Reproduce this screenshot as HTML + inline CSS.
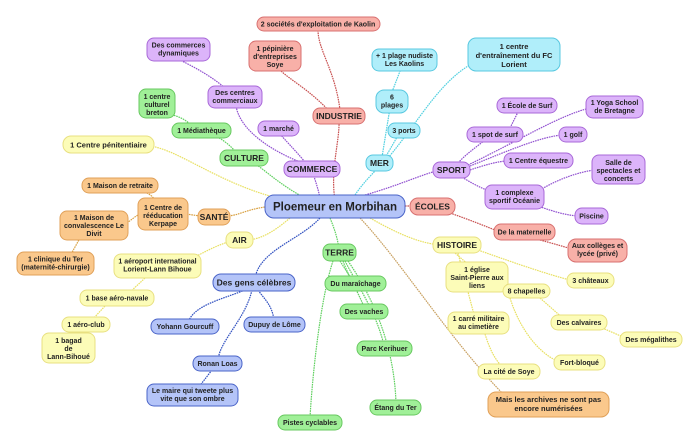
<!DOCTYPE html>
<html><head><meta charset="utf-8"><style>
html,body{margin:0;padding:0;background:#fff;width:700px;height:447px;overflow:hidden}
svg{display:block}
text{font-family:"Liberation Sans",sans-serif;font-weight:bold;font-size:7px;fill:#222;text-anchor:middle}
.e{fill:none;stroke-width:1.2;stroke-dasharray:1.6 0.8}
.r{fill:#f8b0a8;stroke:#d87070}.p{fill:#dcb4fa;stroke:#a868d8}.g{fill:#a0f098;stroke:#68c860}
.y{fill:#fcfcb8;stroke:#e8e080}.o{fill:#fac88c;stroke:#e0a058}.c{fill:#b0eefa;stroke:#58c8e0}.b{fill:#b4c4f8;stroke:#4a64c8}
rect{stroke-width:1}
.m{font-size:8.5px}
</style></head><body>
<svg width="700" height="447" viewBox="0 0 700 447">
<!-- edges -->
<g class="e" stroke="#c85050">
<path d="M335 200 C330 170,340 140,339 120"/><path d="M340 110 C335 70,318 50,318 30"/><path d="M330 112 C310 90,290 80,280 70"/>
<path d="M405 206 L410 206"/><path d="M450 213 C470 220,485 226,500 232"/><path d="M540 240 C555 244,565 247,575 250"/>
</g>
<g class="e" stroke="#9050d0">
<path d="M320 198 C318 188,315 180,312 170"/><path d="M300 162 C270 150,240 130,236 106"/><path d="M225 88 C210 75,190 65,180 60"/><path d="M305 162 C295 150,285 140,280 134"/>
<path d="M365 195 C400 185,420 175,440 170"/><path d="M458 163 C465 155,475 148,485 140"/><path d="M510 128 L518 112"/>
<path d="M468 165 C520 140,560 115,590 108"/><path d="M470 166 C510 150,540 137,562 135"/><path d="M470 170 C485 165,495 162,506 161"/>
<path d="M460 176 C470 182,480 188,492 192"/><path d="M540 190 C560 178,580 172,594 170"/><path d="M535 205 C555 212,565 215,578 216"/>
</g>
<g class="e" stroke="#60d060">
<path d="M305 198 C280 185,265 170,250 160"/><path d="M235 151 C225 140,215 135,205 132"/><path d="M190 124 C180 115,170 115,162 112"/>
<path d="M330 218 C335 230,338 240,339 250"/><path d="M340 261 L352 280"/><path d="M343 261 C350 280,360 295,365 310"/>
<path d="M345 261 C360 290,375 310,384 345"/><path d="M348 261 C375 300,395 350,396 405"/><path d="M333 261 C320 300,312 380,310 418"/>
</g>
<g class="e" stroke="#e8e060">
<path d="M285 200 C220 185,180 150,150 146"/><path d="M290 218 C270 235,260 238,250 240"/><path d="M228 242 C210 248,200 255,192 258"/>
<path d="M145 278 L128 294"/><path d="M105 306 L92 320"/><path d="M75 332 L70 338"/>
<path d="M370 218 C400 235,420 243,440 245"/><path d="M455 253 L470 266"/><path d="M478 250 C520 265,550 275,570 280"/>
<path d="M458 253 C465 280,470 300,475 318"/><path d="M485 334 C490 350,495 360,505 370"/><path d="M500 285 L515 290"/>
<path d="M540 298 L565 320"/><path d="M600 327 L630 340"/><path d="M510 298 C520 330,540 355,560 362"/>
</g>
<g class="e" stroke="#d8a040">
<path d="M265 207 C245 210,240 215,228 216"/><path d="M200 216 L186 214"/><path d="M155 200 C150 192,140 190,130 190"/>
<path d="M140 214 C132 218,130 222,124 224"/><path d="M80 238 L70 256"/>
</g>
<path class="e" stroke="#c8a060" stroke-width="0.8" d="M360 218 C400 260,450 340,505 396"/>
<g class="e" stroke="#50d0e0">
<path d="M355 195 C365 180,375 172,380 165"/><path d="M385 158 L400 132"/><path d="M382 157 L390 108"/><path d="M392 92 L402 66"/>
<path d="M388 158 C420 120,440 80,475 62"/>
</g>
<g class="e" stroke="#3050c0">
<path d="M320 218 C300 240,260 250,255 278"/><path d="M245 290 C220 300,195 305,188 322"/><path d="M258 290 C265 300,272 305,274 320"/>
<path d="M252 290 C245 320,220 340,218 360"/><path d="M212 370 L198 388"/>
</g>
<!-- nodes -->
<rect class="b" x="265" y="195" width="140" height="23" rx="9" stroke-width="1.6"/><text x="335" y="210.5" style="font-size:11.5px">Ploemeur en Morbihan</text>

<rect class="r" x="313" y="108" width="52" height="16" rx="7"/><text class="m" x="339" y="119">INDUSTRIE</text>
<rect class="r" x="257" y="17" width="123" height="14" rx="7"/><text x="318" y="26.5">2 sociétés d'exploitation de Kaolin</text>
<rect class="r" x="249" y="41" width="52" height="30" rx="7"/><text x="275" y="51">1 pépinière<tspan x="275" dy="8">d'entreprises</tspan><tspan x="275" dy="8">Soye</tspan></text>

<rect class="p" x="284" y="161" width="56" height="16" rx="7"/><text class="m" x="312" y="172">COMMERCE</text>
<rect class="p" x="147" y="38" width="63" height="23" rx="7"/><text x="178.5" y="47.5">Des commerces<tspan x="178.5" dy="8">dynamiques</tspan></text>
<rect class="p" x="208" y="86" width="54" height="22" rx="7"/><text x="235" y="95">Des centres<tspan x="235" dy="8">commerciaux</tspan></text>
<rect class="p" x="258" y="121" width="41" height="15" rx="7"/><text x="278.5" y="131">1 marché</text>

<rect class="g" x="220" y="150" width="48" height="16" rx="7"/><text class="m" x="244" y="161">CULTURE</text>
<rect class="g" x="172" y="123" width="59" height="15" rx="7"/><text x="201.5" y="133">1 Médiathèque</text>
<rect class="g" x="139" y="89" width="36" height="29" rx="7"/><text x="157" y="99">1 centre<tspan x="157" dy="8">culturel</tspan><tspan x="157" dy="8">breton</tspan></text>

<rect class="y" x="63" y="136" width="91" height="17" rx="8"/><text x="108.5" y="147.5" style="font-size:7.5px">1 Centre pénitentiaire</text>

<rect class="o" x="82" y="178" width="76" height="15" rx="7"/><text x="120" y="188">1 Maison de retraite</text>
<rect class="o" x="138" y="198" width="50" height="32" rx="7"/><text x="163" y="210">1 Centre de<tspan x="163" dy="8">rééducation</tspan><tspan x="163" dy="8">Kerpape</tspan></text>
<rect class="o" x="198" y="209" width="32" height="16" rx="7"/><text class="m" x="214" y="220">SANTÉ</text>
<rect class="o" x="60" y="211" width="68" height="29" rx="7"/><text x="94" y="220">1 Maison de<tspan x="94" dy="8">convalescence Le</tspan><tspan x="94" dy="8">Divit</tspan></text>
<rect class="o" x="17" y="252" width="77" height="23" rx="7"/><text x="55.5" y="261.5">1 clinique du Ter<tspan x="55.5" dy="8">(maternité-chirurgie)</tspan></text>

<rect class="y" x="226" y="232" width="27" height="16" rx="7"/><text class="m" x="239.5" y="243">AIR</text>
<rect class="y" x="114" y="254" width="87" height="24" rx="7"/><text x="157.5" y="263.5">1 aéroport international<tspan x="157.5" dy="8">Lorient-Lann Bihoue</tspan></text>
<rect class="y" x="80" y="290" width="74" height="16" rx="7"/><text x="117" y="300.5">1 base aéro-navale</text>
<rect class="y" x="62" y="317" width="48" height="15" rx="7"/><text x="86" y="327">1 aéro-club</text>
<rect class="y" x="42" y="333" width="53" height="30" rx="7"/><text x="68.5" y="343">1 bagad<tspan x="68.5" dy="8">de</tspan><tspan x="68.5" dy="8">Lann-Bihoué</tspan></text>

<rect class="b" x="213" y="274" width="82" height="17" rx="8"/><text class="m" x="254" y="285.5">Des gens célèbres</text>
<rect class="b" x="151" y="319" width="68" height="15" rx="7"/><text x="185" y="329">Yohann Gourcuff</text>
<rect class="b" x="244" y="317" width="61" height="15" rx="7"/><text x="274.5" y="327">Dupuy de Lôme</text>
<rect class="b" x="193" y="356" width="49" height="15" rx="7"/><text x="217.5" y="366">Ronan Loas</text>
<rect class="b" x="147" y="384" width="91" height="22" rx="7"/><text x="192.5" y="393">Le maire qui tweete plus<tspan x="192.5" dy="8">vite que son ombre</tspan></text>

<rect class="g" x="323" y="244" width="33" height="17" rx="7"/><text class="m" x="339.5" y="255.5">TERRE</text>
<rect class="g" x="325" y="276" width="61" height="15" rx="7"/><text x="355.5" y="286">Du maraîchage</text>
<rect class="g" x="340" y="304" width="48" height="15" rx="7"/><text x="364" y="314">Des vaches</text>
<rect class="g" x="357" y="341" width="55" height="15" rx="7"/><text x="384.5" y="351">Parc Kerihuer</text>
<rect class="g" x="370" y="400" width="51" height="15" rx="7"/><text x="395.5" y="410">Étang du Ter</text>
<rect class="g" x="278" y="415" width="64" height="15" rx="7"/><text x="310" y="425">Pistes cyclables</text>

<rect class="c" x="366" y="155" width="27" height="16" rx="7"/><text class="m" x="379.5" y="166">MER</text>
<rect class="c" x="388" y="123" width="32" height="15" rx="7"/><text x="404" y="133">3 ports</text>
<rect class="c" x="376" y="90" width="32" height="23" rx="8"/><text x="392" y="99.5">6<tspan x="392" dy="8">plages</tspan></text>
<rect class="c" x="372" y="49" width="65" height="22" rx="7"/><text x="404.5" y="58">+ 1 plage nudiste<tspan x="404.5" dy="8">Les Kaolins</tspan></text>
<rect class="c" x="468" y="38" width="92" height="33" rx="8"/><text x="514" y="49" style="font-size:7.5px">1 centre<tspan x="514" dy="9">d'entraînement du FC</tspan><tspan x="514" dy="9">Lorient</tspan></text>

<rect class="p" x="433" y="162" width="37" height="16" rx="7"/><text class="m" x="451.5" y="173">SPORT</text>
<rect class="p" x="467" y="127" width="56" height="15" rx="7"/><text x="495" y="137">1 spot de surf</text>
<rect class="p" x="497" y="98" width="60" height="15" rx="7"/><text x="527" y="108">1 École de Surf</text>
<rect class="p" x="586" y="96" width="57" height="22" rx="7"/><text x="614.5" y="105">1 Yoga School<tspan x="614.5" dy="8">de Bretagne</tspan></text>
<rect class="p" x="559" y="127" width="28" height="15" rx="7"/><text x="573" y="137">1 golf</text>
<rect class="p" x="504" y="153" width="69" height="15" rx="7"/><text x="538.5" y="163">1 Centre équestre</text>
<rect class="p" x="485" y="185" width="59" height="24" rx="7"/><text x="514.5" y="195">1 complexe<tspan x="514.5" dy="8">sportif Océanie</tspan></text>
<rect class="p" x="592" y="155" width="53" height="29" rx="7"/><text x="618.5" y="165">Salle de<tspan x="618.5" dy="8">spectacles et</tspan><tspan x="618.5" dy="8">concerts</tspan></text>
<rect class="p" x="575" y="208" width="33" height="16" rx="7"/><text x="591.5" y="218.5">Piscine</text>

<rect class="r" x="410" y="198" width="45" height="17" rx="8"/><text class="m" x="432.5" y="209.5">ÉCOLES</text>
<rect class="r" x="494" y="224" width="61" height="16" rx="7"/><text x="524.5" y="234.5">De la maternelle</text>
<rect class="r" x="568" y="239" width="59" height="23" rx="8"/><text x="597.5" y="248">Aux collèges et<tspan x="597.5" dy="8">lycée (privé)</tspan></text>

<rect class="y" x="433" y="237" width="48" height="16" rx="7"/><text class="m" x="457" y="248">HISTOIRE</text>
<rect class="y" x="446" y="262" width="62" height="30" rx="7"/><text x="477" y="272">1 église<tspan x="477" dy="8">Saint-Pierre aux</tspan><tspan x="477" dy="8">liens</tspan></text>
<rect class="y" x="503" y="284" width="47" height="14" rx="7"/><text x="526.5" y="293.5">8 chapelles</text>
<rect class="y" x="567" y="273" width="47" height="15" rx="7"/><text x="590.5" y="283">3 châteaux</text>
<rect class="y" x="448" y="312" width="61" height="22" rx="7"/><text x="478.5" y="321">1 carré militaire<tspan x="478.5" dy="8">au cimetière</tspan></text>
<rect class="y" x="551" y="315" width="56" height="15" rx="7"/><text x="579" y="325">Des calvaires</text>
<rect class="y" x="620" y="332" width="62" height="15" rx="7"/><text x="651" y="342">Des mégalithes</text>
<rect class="y" x="554" y="355" width="51" height="15" rx="7"/><text x="579.5" y="365">Fort-bloqué</text>
<rect class="y" x="478" y="364" width="62" height="15" rx="7"/><text x="509" y="374">La cité de Soye</text>

<rect class="o" x="488" y="392" width="121" height="25" rx="8"/><text x="548.5" y="402" style="font-size:7.5px">Mais les archives ne sont pas<tspan x="548.5" dy="9">encore numérisées</tspan></text>
</svg>
</body></html>
